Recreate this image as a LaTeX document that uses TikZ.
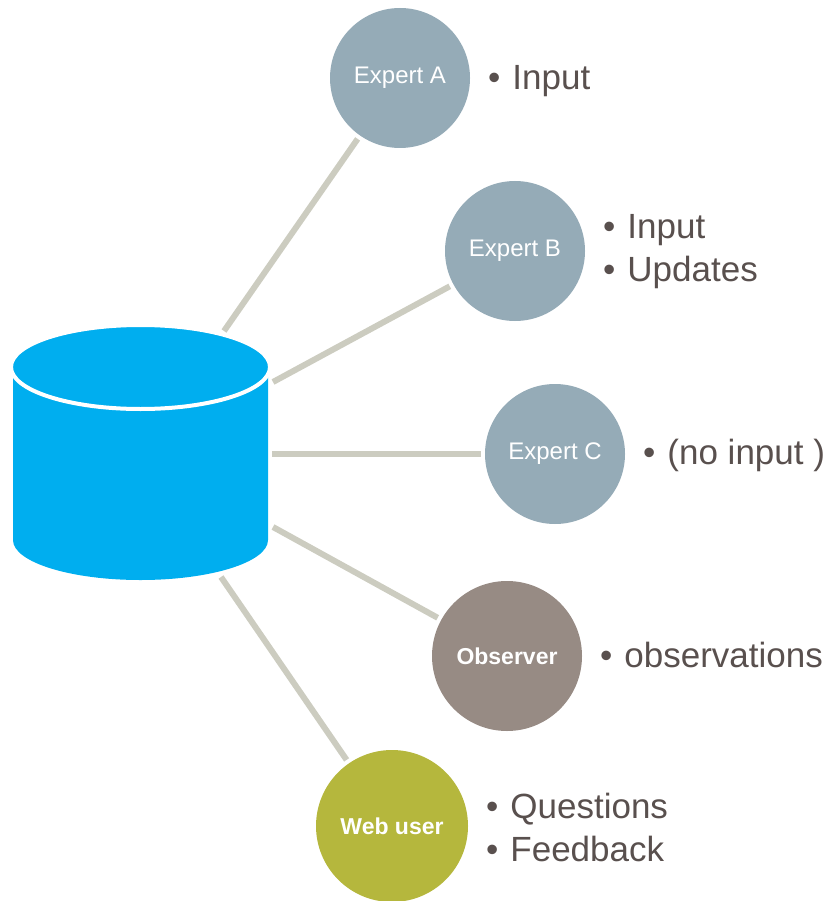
\documentclass[tikz,border=0pt]{standalone}
\usepackage{fontspec}
\usetikzlibrary{shapes.geometric}
\setmainfont{Liberation Sans}
\definecolor{dbblue}{RGB}{0,174,239}
\definecolor{expertgrey}{RGB}{149,171,183}
\definecolor{observerbrown}{RGB}{151,139,132}
\definecolor{webgreen}{RGB}{181,183,61}
\definecolor{linkgrey}{RGB}{204,204,192}
\definecolor{notegrey}{RGB}{89,80,78}
\tikzset{
	actor/.style={circle, inner sep=0pt, text=white, font=\fontsize{24}{26}\selectfont},
	expert/.style={actor, fill=expertgrey, minimum size=140pt},
	link/.style={linkgrey, line width=6pt, shorten >=4pt},
	note/.style={anchor=west, inner sep=0pt, align=left, text=notegrey, font=\fontsize{35}{43}\selectfont}
}
\newcommand{\notebullet}{\textbullet\hspace{12pt}}
\begin{document}
\begin{tikzpicture}[x=1pt, y=-1pt]
	\useasboundingbox (0,0) rectangle (826,901);
	% database
	\fill [dbblue] (13,367) -- (13,540) arc [start angle=180, end angle=0, x radius=127.5, y radius=40] -- (268,367) -- cycle;
	\node (db) [ellipse, draw=white, fill=dbblue, line width=4pt, inner sep=0pt, minimum width=259pt, minimum height=84pt] at (140.5,367) {};
	% people
	\node (expertA) [expert] at (400,78) {Expert A};
	\node (expertB) [expert] at (515,251) {Expert B};
	\node (expertC) [expert] at (555,454) {Expert C};
	\node (observer) [actor, fill=observerbrown, minimum size=150pt, font=\fontsize{23}{26}\selectfont\bfseries] at (507,656) {Observer};
	\node (webuser) [actor, fill=webgreen, minimum size=152pt, font=\fontsize{23}{26}\selectfont\bfseries] at (392,826) {Web user};
	% what they give
	\node (noteA) [note] at (488,81) {\notebullet Input};
	\node (noteB) [note] at (603,252) {\notebullet Input\\\notebullet Updates};
	\node (noteC) [note] at (643,455) {\notebullet (no input )};
	\node (noteO) [note] at (600,655) {\notebullet observations};
	\node (noteW) [note] at (486,827) {\notebullet Questions\\\notebullet Feedback};
	% links
	\coordinate (dbA) at (224,331);
	\coordinate (dbB) at (273,382);
	\coordinate (dbC) at (272,454);
	\coordinate (dbO) at (273,527);
	\coordinate (dbW) at (221,577);
	\draw [link] (dbA) -- (expertA);
	\draw [link] (dbB) -- (expertB);
	\draw [link] (dbC) -- (expertC);
	\draw [link] (dbO) -- (observer);
	\draw [link] (dbW) -- (webuser);
\end{tikzpicture}
\end{document}
